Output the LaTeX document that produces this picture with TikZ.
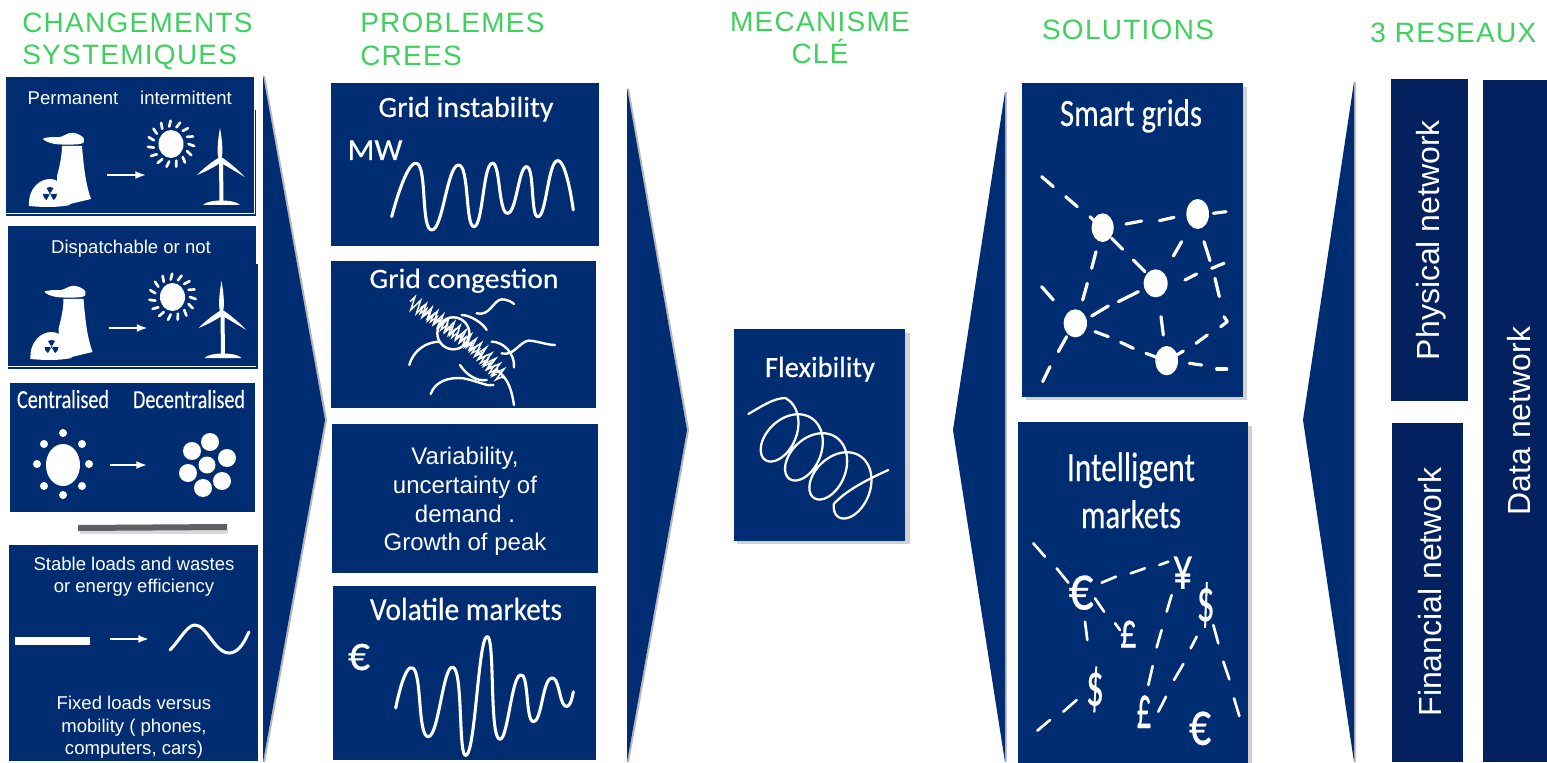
\documentclass[tikz,border=0pt]{standalone}
\usepackage{fontspec}
\usepackage{graphicx}
\usetikzlibrary{arrows.meta,decorations.pathmorphing}
\setmainfont{Liberation Sans}
\newfontfamily\cond[FakeBold=0.4]{Carlito}
\newfontfamily\ttl[LetterSpace=4.5]{Liberation Sans}
\definecolor{navy}{HTML}{002D72}
\definecolor{deep}{HTML}{03215F}
\definecolor{ttlgreen}{HTML}{40D060}
\definecolor{barg}{HTML}{5F6065}
\newcommand\fs[1]{\fontsize{#1}{#1}\selectfont}
\newcommand\fitw[2]{\resizebox{\dimexpr #1pt*3/4\relax}{\height}{#2}}
\tikzset{
 x=0.75pt,y=-0.75pt,
 panel/.style={fill=navy},
 shade/.style={fill=black!18},
 chev/.style={fill=navy},
 chevshade/.style={draw=black!28,line width=1.6pt,line join=round},
 ttext/.style={text=ttlgreen,font=\ttl\fs{21},anchor=base,inner sep=0pt},
 wtext/.style={text=white,font=\fs{13.9},inner sep=0pt,anchor=base},
 mtext/.style={text=white,font=\fs{18},inner sep=0pt,anchor=base},
 ctext/.style={text=white,font=\cond,inner sep=0pt,anchor=base},
 symtext/.style={text=white,font=\cond,inner sep=0pt},
 bigtext/.style={text=white,font=\fs{24},inner sep=0pt,rotate=90},
 wline/.style={draw=white,line width=2.3pt,line cap=round,line join=round},
 thin wline/.style={draw=white,line width=1.8pt,line cap=round,line join=round},
 dashline/.style={draw=white,line width=2.4pt,line cap=round},
 arr/.style={draw=white,line width=1.5pt,-{Latex[length=8pt,width=6pt]}},
}
\newcommand\genicon[2]{%
 \begin{scope}[shift={(#1,#2)}]
  \fill[white] (62,146) -- (82,146) .. controls (84,170) and (86,185) .. (91,199) -- (70,204) -- (57,204) -- (57,176) .. controls (60,165) and (62,155) .. cycle;
  \fill[white] plot[smooth cycle,tension=.6] coordinates {(43,139) (52,137) (60,137) (70,133) (78,134) (84,139) (80,144) (55,144)};
  \fill[white] (29,206) .. controls (28,188) and (40,179) .. (50,179) .. controls (60,179) and (69,190) .. (70,205) .. controls (55,208) and (40,207) .. cycle;
  \fill[navy] (50,194) -- +(-120:7) arc (-120:-60:7) -- cycle;
  \fill[navy] (50,194) -- +(120:7) arc (120:180:7) -- cycle;
  \fill[navy] (50,194) -- +(0:7) arc (0:60:7) -- cycle;
  \fill[white] (50,194) circle (1.6);
  \fill[navy] (50,194) circle (1);
  \draw[arr] (107,175) -- (146,175);
  \fill[white] (171,144) ellipse (12.5 and 14);
  \foreach \a in {0,24,...,336}{
   \draw[white,line width=2pt,line cap=round] (171,144)++(\a:17.5) -- ++(\a+20:6);
  }
  \fill[white] (220,128) .. controls (217,145) and (217,155) .. (219,160) -- (221,160) .. controls (223,155) and (223,145) .. cycle;
  \fill[white] (197,175) .. controls (205,167) and (213,161) .. (220,157) -- (222,162) .. controls (214,167) and (205,172) .. cycle;
  \fill[white] (245,177) .. controls (238,170) and (228,161) .. (221,157) -- (219,162) .. controls (227,166) and (236,172) .. cycle;
  \fill[white] (220,160) circle (2.6);
  \fill[white] (219,160) -- (223,160) -- (223.5,202) -- (219.5,202) -- cycle;
  \fill[white] (203,205) .. controls (208,199) and (235,199) .. (240,205) -- cycle;
 \end{scope}}
\begin{document}
\begin{tikzpicture}
\useasboundingbox (0,0) rectangle (1547,763);
\fill[white] (0,0) rectangle (1547,763);

% titles
\node[ttext,anchor=base west] (t1a) at (22,33) {CHANGEMENTS};
\node[ttext,anchor=base west] (t1b) at (22,65) {SYSTEMIQUES};
\node[ttext,anchor=base west] (t2a) at (360,33) {PROBLEMES};
\node[ttext,anchor=base west] (t2b) at (360,65.5) {CREES};
\node[ttext] (t3a) at (820,32) {MECANISME};
\node[ttext] (t3b) at (820,64) {CLÉ};
\node[ttext] (t4) at (1128,40) {SOLUTIONS};
\node[ttext,anchor=base west] (t5) at (1370,43) {3 RESEAUX};

% chevrons
\draw[chevshade] (264,76) -- (326,420) -- (264,762);
\fill[chev] (263,75) -- (325,420) -- (263,762) -- cycle;
\draw[chevshade] (628,89) -- (688,430) -- (628,762);
\fill[chev] (627,88) -- (687,430) -- (627,762) -- cycle;
\draw[draw=black!25,line width=1.2pt] (1006,92) -- (1006,762);
\fill[chev] (1005,92) -- (953,430) -- (1005,762) -- cycle;
\draw[draw=black!25,line width=1.2pt] (1355,82) -- (1355,762);
\fill[chev] (1354,82) -- (1303,420) -- (1354,762) -- cycle;

% ---- column 1
\fill[panel] (6,77) rectangle (254,213);
\draw[navy,line width=.8pt] (255.5,110) -- (255.5,215) -- (6,215);
\node[wtext] (p1a) at (73,105) {Permanent};
\node[wtext] (p1b) at (186,105) {intermittent};
\genicon{0}{0}
\fill[panel] (8,226) rectangle (256,366);
\draw[navy,line width=.8pt] (257,264) -- (257,368) -- (8,368);
\node[wtext] (p2a) at (131,253) {Dispatchable or not};
\genicon{1.5}{153}

\fill[panel] (10,383) rectangle (255,512);
\node[ctext] (p3a) at (63,408) {\fs{19.5}\fitw{92}{Centralised}};
\node[ctext] (p3b) at (189,408) {\fs{19.5}\fitw{112}{Decentralised}};
\fill[white] (63,465) ellipse (17 and 21);
\foreach \px/\py in {63/433,44/444,82/444,37/464,89/464,44/486,82/486,63/495}{
 \fill[white] (\px,\py) circle (4);
}
\draw[arr] (110,465) -- (147,465);
\foreach \px/\py/\r in {210/442/9,192/451/9,227/458/9,207/465/8.5,188/473/9,222/481/9,203/488/9}{
 \fill[white] (\px,\py) circle (\r);
}
\fill[black!15] (80,529) rectangle (228,534);
\fill[barg] (78,525) -- (227,524) -- (227,530) -- (78,531) -- cycle;

\fill[panel] (9,545) rectangle (258,761);
\node[wtext] (p4a) at (134,570) {Stable loads and wastes};
\node[wtext] (p4b) at (134,592) {or energy efficiency};
\fill[white] (15,637) rectangle (90,645);
\draw[arr] (110,639) -- (149,639);
\draw[wline] (170,650) .. controls (180,640) and (187,625) .. (195,625) .. controls (207,625) and (215,654) .. (230,653) .. controls (240,652) and (245,640) .. (249,632);
\node[wtext] (p4c) at (134,709) {Fixed loads versus};
\node[wtext] (p4d) at (134,732) {mobility ( phones,};
\node[wtext] (p4e) at (134,754) {computers, cars)};

% ---- column 2
\fill[panel] (331,83) rectangle (599,246);
\node[ctext] (q1) at (466,117) {\fs{22}\fitw{175}{Grid instability}};
\node[ctext] (q1b) at (375,160) {\fs{23}\fitw{55}{MW}};
\draw[wline] plot[smooth,tension=.95] coordinates {(391.7,216.7) (416.7,163.3) (431.7,230) (458.3,165) (474,226.7) (491.7,163.3) (507.3,213.3) (526.7,166.7) (538.3,216.7) (557.3,160.7) (573.3,210)};

\fill[panel] (331,261) rectangle (596,408);
\node[ctext] (q2) at (464,288) {\fs{21}\fitw{189}{Grid congestion}};
\begin{scope}[shift={(320,70)},x=.25pt,y=-.25pt]
 \draw[thin wline] (400,790) circle [x radius=48,y radius=48];
 \draw[thin wline] (425,735) .. controls (450,735) and (490,760) .. (500,780);
 \draw[thin wline] (470,730) .. controls (510,740) and (520,690) .. (545,688) .. controls (560,688) and (575,695) .. (582,702);
 \draw[thin wline] (268,885) .. controls (280,840) and (320,815) .. (360,815);
 \draw[thin wline] (515,815) .. controls (550,815) and (585,850) .. (582,892);
 \draw[thin wline] (545,850) .. controls (580,860) and (600,815) .. (625,812) .. controls (650,812) and (680,825) .. (705,825);
 \draw[thin wline] (332,972) .. controls (345,935) and (385,920) .. (430,925) .. controls (480,935) and (500,950) .. (520,945);
 \draw[thin wline] (420,885) .. controls (440,915) and (470,935) .. (500,930);
 \draw[thin wline] (530,900) .. controls (565,925) and (575,960) .. (582,1005);
 \draw[white,line width=1.1pt,decorate,decoration={zigzag,segment length=5pt,amplitude=5pt}] (270,695) -- (350,745) -- (420,790) -- (490,850) -- (550,925);
 \draw[white,line width=1pt,decorate,decoration={zigzag,segment length=3.3pt,amplitude=3pt}] (300,715) -- (370,770) -- (450,825) -- (530,915);
\end{scope}

\fill[panel] (332,424) rectangle (598,573);
\node[mtext] (q3a) at (465,464) {Variability,};
\node[mtext] (q3b) at (465,493) {uncertainty of};
\node[mtext] (q3c) at (465,522) {demand .};
\node[mtext] (q3d) at (465,550) {Growth of peak};

\fill[panel] (333,586) rectangle (596,760);
\node[ctext] (q4) at (466,620) {\fs{24}\fitw{192}{Volatile markets}};
\node[symtext] (q4b) at (359,657) {\fs{37}\fitw{22}{€}};
\draw[wline] plot[smooth,tension=.95] coordinates {(395.7,708) (413.3,668.3) (428.3,736.7) (453.3,667.3) (466.7,755) (486.7,636.7) (498.3,738.3) (520,675) (533.3,721.7) (550.7,678.3) (565,706) (573.3,691.7)};

% ---- flexibility
\fill[shade] (737,333) rectangle (910,544);
\fill[panel] (734,329) rectangle (905,541);
\node[ctext] (f1) at (820,377) {\fs{22}\fitw{110}{Flexibility}};
\begin{scope}[shift={(720,320)},x=.25pt,y=-.25pt]
 \draw[white,line width=1.7pt,line join=round,line cap=round] (85,282) .. controls (120,262) and (160,234) .. (196,234);
 \draw[white,line width=1.7pt,line join=round,line cap=round] plot[smooth,samples=130,domain=0:1310,variable=\t] ({150+0.2028*\t+46*cos(\t)+58*sin(\t)},{314+0.1583*\t-80*cos(\t)+28*sin(\t)}) .. controls (380,510) and (440,480) .. (505,450);
\end{scope}

% ---- smart grids
\fill[shade] (1026,87) rectangle (1247,400);
\fill[panel] (1022,83) rectangle (1243,397);
\node[ctext] (s1) at (1131,126) {\fs{29}\fitw{142}{Smart grids}};
\begin{scope}[shift={(1000,70)},x=.25pt,y=-.25pt]
 \foreach \ax/\ay/\bx/\by in {125/320/160/350,197/380/232/410,270/440/285/455,378/462/425/453,478/452/522/442,640/430/678/425,288/545/275/595,262/640/248/690,335/505/368/538,400/570/435/605,545/515/520/558,612/515/630/572,635/595/672/580,555/630/590/612,645/625/658/680,622/795/588/820,415/665/355/695,325/708/275/738,125/650/160/690,200/800/175/845,150/890/128/935,285/785/325/800,362/817/400/835,438/850/470/862,530/855/550/843,483/740/490/795,568/880/605/885,650/897/680/897}{
  \draw[dashline] (\ax,\ay) -- (\bx,\by);
 }
 \draw[dashline,line join=round] (672,740) -- (682,755) -- (662,770);
 \foreach \cx/\cy/\rx/\ry in {308/473/33/43,593/432/34/45,467/640/36/42,226/760/35/42,500/872/34/44}{
  \fill[white] (\cx,\cy) ellipse [x radius=\rx,y radius=\ry];
 }
\end{scope}

% ---- intelligent markets
\fill[shade] (1022,426) rectangle (1252,763);
\fill[panel] (1018,422) rectangle (1248,763);
\node[ctext] (m1) at (1131,481) {\fs{31}\fitw{128}{Intelligent}};
\node[ctext] (m2) at (1131,528) {\fs{30}\fitw{100}{markets}};
\begin{scope}[shift={(1000,410)},x=.25pt,y=-.25pt]
 \foreach \ax/\ay/\bx/\by in {100/400/135/440,170/475/205/518,305/518/348/500,392/490/435/475,478/465/505/455,285/565/312/605,345/640/360/660,255/635/262/690,515/555/500/605,485/660/470/712,458/768/445/825,590/680/572/715,550/762/522/810,498/860/475/905,640/645/655/700,670/755/688/808,702/865/718/918,230/870/190/905,150/930/112/962}{
  \draw[dashline,line width=2pt] (\ax,\ay) -- (\bx,\by);
 }
 \foreach \nm/\sx/\sy/\sym/\w/\sz in {a/243/548/€/25/48,b/548/488/¥/20/46,c/617/585/\$/18/46,d/385/672/£/17/38,e/285/838/\$/18/46,f/432/905/£/15/46,g/600/955/€/22/47}{
  \node[symtext] (cur\nm) at (\sx,\sy) {\fs{\sz}\fitw{\w}{\sym}};
 }
\end{scope}

% ---- three networks
\fill[deep] (1391,79) rectangle (1468,401);
\fill[deep] (1392,423) rectangle (1463,762);
\fill[deep] (1483,80) rectangle (1547,762);
\node[bigtext] (n1) at (1431,240) {Physical network};
\node[bigtext] (n2) at (1430,592) {Financial network};
\node[bigtext] (n3) at (1519,421) {Data network};
\end{tikzpicture}
\end{document}
